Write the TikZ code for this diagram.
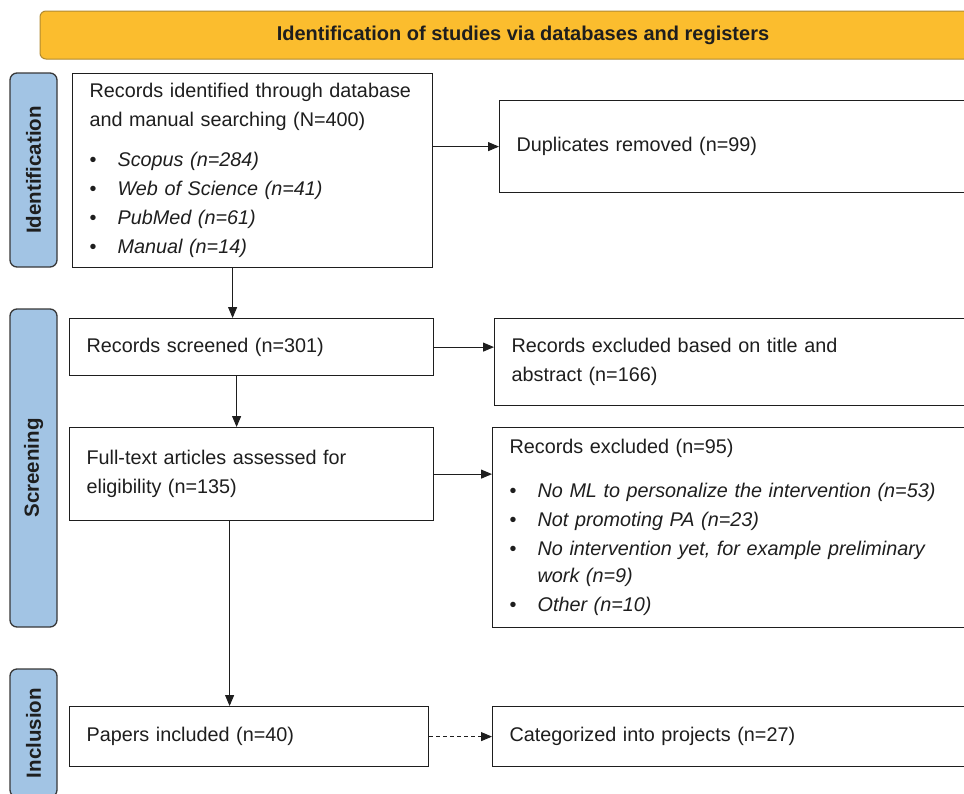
\documentclass[tikz,border=0pt]{standalone}
\usepackage{fontspec}
\setmainfont{Liberation Sans}
\usetikzlibrary{arrows.meta}
\definecolor{bannerfill}{HTML}{FBBD2E}
\definecolor{bannerdraw}{HTML}{B08A30}
\definecolor{sidefill}{HTML}{A2C4E4}
\definecolor{sidedraw}{HTML}{383838}
\definecolor{ink}{HTML}{1E1E1E}
\newcommand{\bitem}[1]{\makebox[28pt][l]{\textbullet}\textit{#1}}
\begin{document}
\begin{tikzpicture}[x=1pt,y=-1pt,
  box/.style={draw=ink, line width=1.2pt, fill=white, rectangle, inner xsep=17pt, inner ysep=0pt,
    align=left, anchor=north west, text=ink, font=\fontsize{19.8}{29}\selectfont},
  side/.style={draw=sidedraw, line width=1.3pt, fill=sidefill, rounded corners=7pt, rotate=90,
    minimum height=47pt, inner sep=0pt, text=ink, font=\bfseries\fontsize{20.5}{22}\selectfont},
  arr/.style={draw=ink, line width=1pt, -{Triangle[length=11pt,width=9pt]}}]
\clip (0,0) rectangle (964,793);
\fill[white] (0,0) rectangle (964,793);

\node[draw=bannerdraw, line width=1pt, fill=bannerfill, rounded corners=6pt,
  minimum width=966pt, minimum height=48pt, inner sep=0pt, text=ink,
  font=\bfseries\fontsize{20}{22}\selectfont] (banner) at (523,35)
  {Identification of studies via databases and registers};

\node[side, minimum width=194pt] (lid) at (33.5,170) {Identification};
\node[side, minimum width=318pt] (lscr) at (33.5,468) {Screening};
\node[side, minimum width=128pt] (linc) at (33.5,733) {Inclusion};

\node[box, text width=326pt, minimum height=194pt] (id) at (72,73)
  {Records identified through database\\ and manual searching (N=400)\\[11pt]
   \bitem{Scopus (n=284)}\\ \bitem{Web of Science (n=41)}\\ \bitem{PubMed (n=61)}\\ \bitem{Manual (n=14)}};
\node[box, text width=442pt, minimum height=92pt] (dup) at (499,100)
  {Duplicates removed (n=99)};
\node[box, text width=330pt, minimum height=57pt] (scr) at (69,318)
  {Records screened (n=301)};
\node[box, text width=447pt, minimum height=87pt] (ex1) at (494,318)
  {Records excluded based on title and\\ abstract (n=166)};
\node[box, text width=330pt, minimum height=93pt] (ft) at (69,427)
  {Full-text articles assessed for\\ eligibility (n=135)};
\node[box, text width=449pt, minimum height=200pt] (ex2) at (492,427)
  {Records excluded (n=95)\\[15pt]
   \bitem{No ML to personalize the intervention (n=53)}\\
   \bitem{Not promoting PA (n=23)}\\
   \bitem{No intervention yet, for example preliminary}\\[-2pt]
   \hspace*{28pt}\textit{work (n=9)}\\
   \bitem{Other (n=10)}};
\node[box, text width=325pt, minimum height=60pt] (inc) at (69,706)
  {Papers included (n=40)};
\node[box, text width=449pt, minimum height=60pt] (cat) at (492,706)
  {Categorized into projects (n=27)};

\draw[arr] ([xshift=-20pt]id.south) -- ([xshift=-20pt]id.south |- scr.north);
\draw[arr] ([xshift=-15pt]scr.south) -- ([xshift=-15pt]scr.south |- ft.north);
\draw[arr] ([xshift=-22pt]ft.south) -- ([xshift=-22pt]ft.south |- inc.north);
\draw[arr] (id.east |- dup.west) -- (dup.west);
\draw[arr] (scr.east) -- (scr.east -| ex1.west);
\draw[arr] (ft.east) -- (ft.east -| ex2.west);
\draw[arr, dashed, dash pattern=on 4pt off 3pt] (inc.east) -- (cat.west);
\end{tikzpicture}
\end{document}
